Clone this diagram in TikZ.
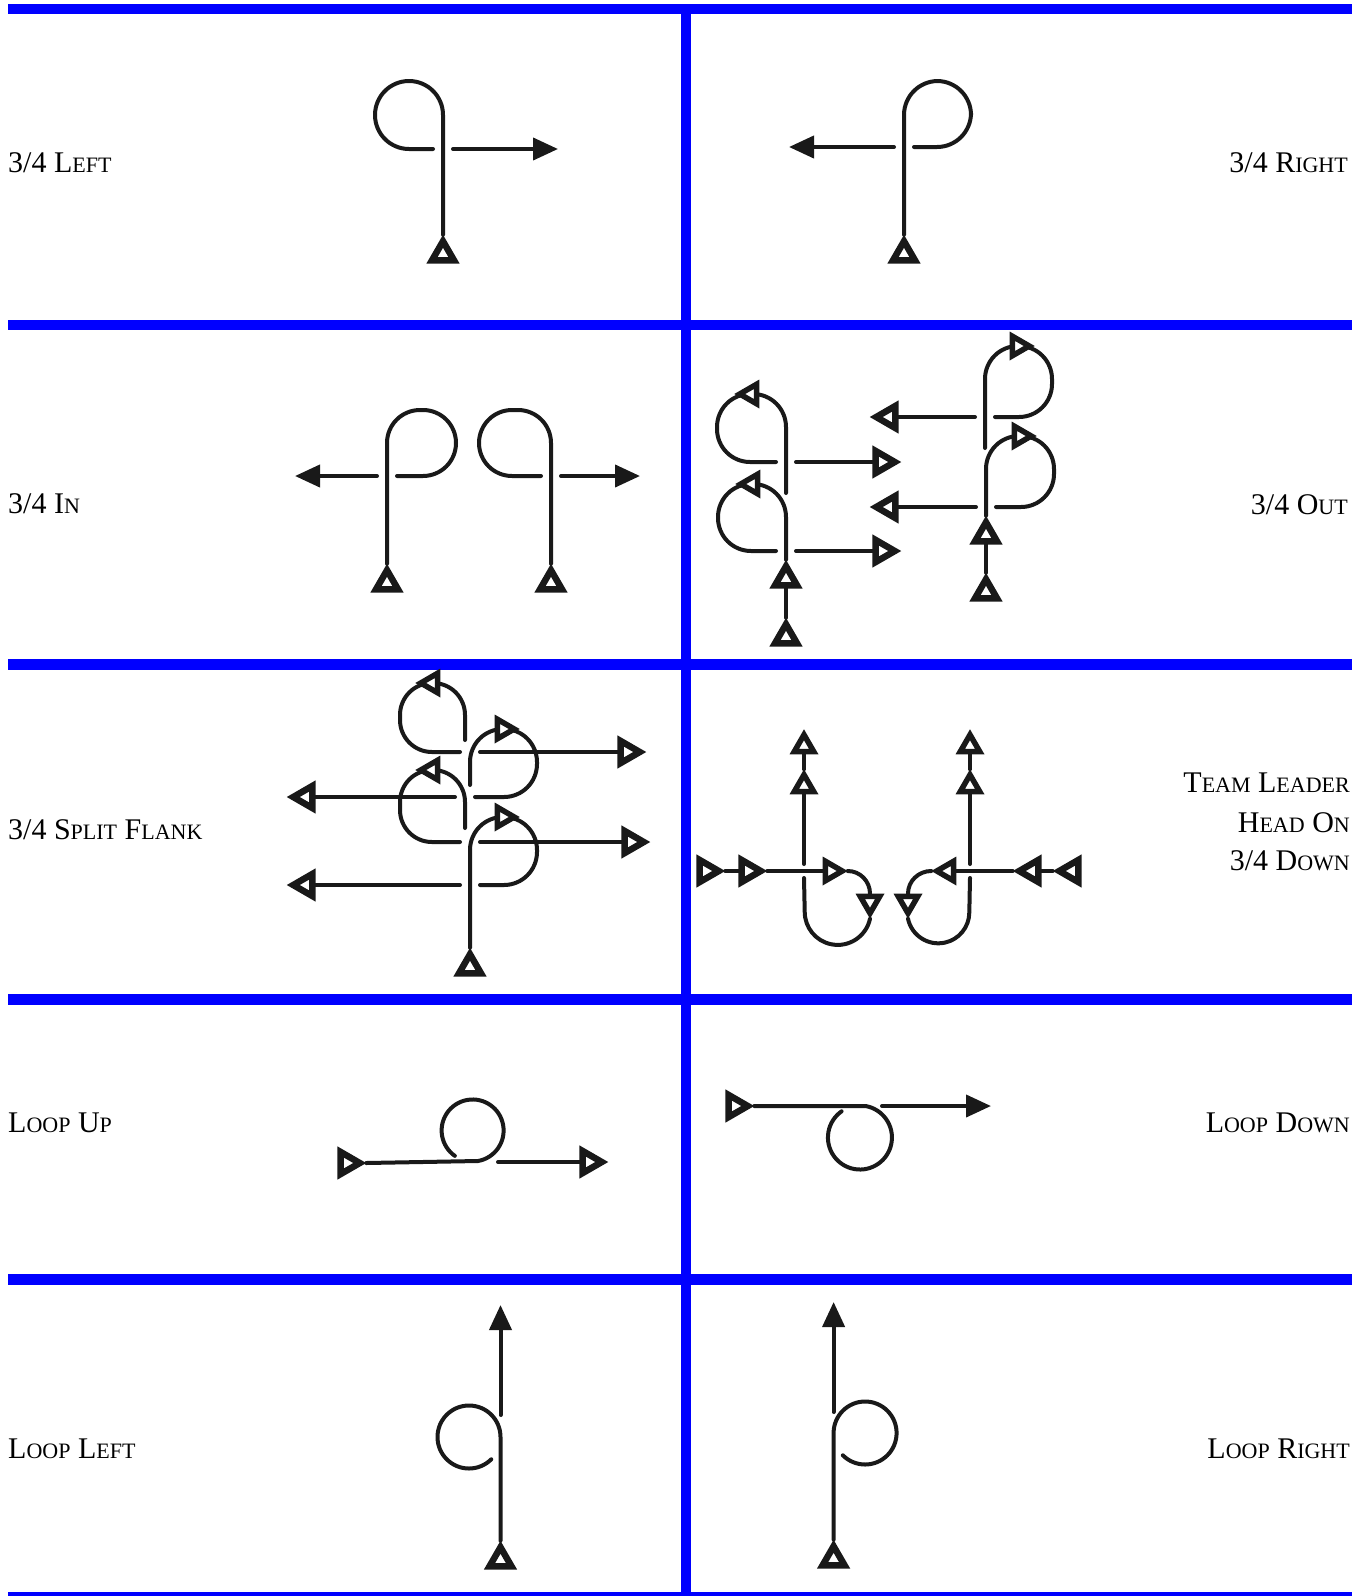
\documentclass[tikz,border=0pt]{standalone}
\usepackage{fontspec}
\setmainfont{Liberation Serif}
\usepackage{tikz}
\usetikzlibrary{arrows.meta,shapes.geometric}
\definecolor{ink}{gray}{0.1}
\newcommand\tsc[1]{{\fontsize{22}{26}\selectfont #1}}
\tikzset{
  rule/.style    ={draw=blue,line width=10.5pt},
  lbl/.style     ={font=\fontsize{30}{36}\selectfont,inner sep=0pt},
  track/.style   ={draw=ink,line width=4pt,line cap=round},
  dog/.style     ={regular polygon,regular polygon sides=3,draw=ink,fill=white,
                   line width=6.5pt,minimum size=25.5pt,inner sep=0pt},
  dogmark/.style ={dog,line width=5.5pt,minimum size=22.5pt},
  go/.style      ={-{Triangle[length=25pt,width=22pt]}},
}

\begin{document}
\begin{tikzpicture}[x=1pt,y=1pt]
  \useasboundingbox (0,0) rectangle (1364,-1596);
  % blue grid
  \foreach \yy in {9,325,664.5,999.5,1279.5,1597.5}
    \draw[rule] (8,-\yy) -- (1352,-\yy);
  \draw[rule] (686,-9) -- (686,-1597.5);

  % labels
  \node[lbl,anchor=base west] (lab1) at (8,-172) {3/4 L\tsc{EFT}};
  \node[lbl,anchor=base east] (lab2) at (1348,-172) {3/4 R\tsc{IGHT}};
  \node[lbl,anchor=base west] (lab3) at (8,-513) {3/4 I\tsc{N}};
  \node[lbl,anchor=base east] (lab4) at (1348,-514) {3/4 O\tsc{UT}};
  \node[lbl,anchor=base west] (lab5) at (8,-839) {3/4 S\tsc{PLIT} F\tsc{LANK}};
  \node[lbl,anchor=base east] (lab6a) at (1350,-792) {T\tsc{EAM} L\tsc{EADER}};
  \node[lbl,anchor=base east] (lab6b) at (1350,-832) {H\tsc{EAD} O\tsc{N}};
  \node[lbl,anchor=base east] (lab6c) at (1350,-870) {3/4 D\tsc{OWN}};
  \node[lbl,anchor=base west] (lab7) at (8,-1132) {L\tsc{OOP} U\tsc{P}};
  \node[lbl,anchor=base east] (lab8) at (1350,-1132) {L\tsc{OOP} D\tsc{OWN}};
  \node[lbl,anchor=base west] (lab9) at (8,-1458) {L\tsc{OOP} L\tsc{EFT}};
  \node[lbl,anchor=base east] (lab10) at (1350,-1458) {L\tsc{OOP} R\tsc{IGHT}};

  % 3/4 left
  \node[dog] (a1) at (443,-254) {};
  \draw[track,rounded corners=34pt] (a1.corner 1) -- (443,-81) -- (375,-81) -- (375,-149) -- (433,-149);
  \draw[track,go] (453,-149) -- (558,-149);
  % 3/4 right
  \node[dog] (a2) at (904,-254) {};
  \draw[track,rounded corners=34pt] (a2.corner 1) -- (904,-81) -- (971,-81) -- (971,-147) -- (914,-147);
  \draw[track,go] (894,-147) -- (789,-147);

  % 3/4 in
  \node[dog] (b1) at (387,-583) {};
  \draw[track,rounded corners=33pt] (b1.corner 1) -- (387,-410) -- (456,-410) -- (456,-476) -- (397,-476);
  \draw[track,go] (377,-476) -- (295,-476);
  \node[dog] (b2) at (551,-583) {};
  \draw[track,rounded corners=33pt] (b2.corner 1) -- (551,-410) -- (479,-410) -- (479,-476) -- (541,-476);
  \draw[track,go] (561,-476) -- (640,-476);

  % 3/4 out, left pair
  \node[dog] (c1) at (786,-637) {};
  \node[dog] (c2) at (786,-579) {};
  \node[dog,rotate=-90] (c9) at (882,-551) {};
  \node[dog,rotate=-90] (c10) at (882,-462) {};
  \draw[track] (c1.corner 1) -- (c2.side 2);
  \draw[track,rounded corners=33pt] (c2.corner 1) -- (786,-484) -- (718,-484) -- (718,-551) -- (776,-551);
  \draw[track] (796,-551) -- (c9.side 2);
  \draw[track,rounded corners=33pt] (786,-493) -- (786,-394) -- (717,-394) -- (717,-462) -- (776,-462);
  \draw[track] (796,-462) -- (c10.side 2);
  \node[dogmark,rotate=90] (c3) at (752,-484) {};
  \node[dogmark,rotate=90] (c4) at (751,-394) {};
  % 3/4 out, right pair
  \node[dog] (c5) at (986,-592) {};
  \node[dog] (c6) at (986,-535) {};
  \node[dog,rotate=90] (c11) at (889,-507) {};
  \node[dog,rotate=90] (c12) at (889,-417) {};
  \draw[track] (c5.corner 1) -- (c6.side 2);
  \draw[track,rounded corners=33pt] (c6.corner 1) -- (986,-436) -- (1054,-436) -- (1054,-507) -- (996,-507);
  \draw[track] (976,-507) -- (c11.side 2);
  \draw[track,rounded corners=33pt] (985,-448) -- (985,-346) -- (1052,-346) -- (1052,-417) -- (995,-417);
  \draw[track] (975,-417) -- (c12.side 2);
  \node[dogmark,rotate=-90] (c7) at (1020,-436) {};
  \node[dogmark,rotate=-90] (c8) at (1018,-346) {};

  % 3/4 split flank
  \node[dog] (d0) at (470,-967) {};
  \node[dog,rotate=90] (d5) at (306,-885) {};
  \node[dog,rotate=-90] (d6) at (631,-842) {};
  \node[dog,rotate=90] (d7) at (306,-797) {};
  \node[dog,rotate=-90] (d8) at (627,-752) {};
  \draw[track,rounded corners=33pt] (d0.corner 1) -- (470,-817) -- (537,-817) -- (537,-885) -- (480,-885);
  \draw[track] (460,-885) -- (d5.side 2);
  \draw[track,rounded corners=32pt] (465,-828) -- (465,-770) -- (400,-770) -- (400,-842) -- (460,-842);
  \draw[track] (480,-842) -- (d6.side 2);
  \draw[track,rounded corners=33pt] (470,-785) -- (470,-729) -- (537,-729) -- (537,-797) -- (475,-797);
  \draw[track] (455,-797) -- (d7.side 2);
  \draw[track,rounded corners=32pt] (465,-740) -- (465,-683) -- (400,-683) -- (400,-752) -- (460,-752);
  \draw[track] (480,-752) -- (d8.side 2);
  \node[dogmark,rotate=-90] (d1) at (503,-817) {};
  \node[dogmark,rotate=90] (d2) at (432,-770) {};
  \node[dogmark,rotate=-90] (d3) at (503,-729) {};
  \node[dogmark,rotate=90] (d4) at (432,-683) {};

  % team leader head on, left file
  \node[dog,rotate=-90] (e1) at (706,-871) {};
  \node[dog,rotate=-90] (e2) at (748,-871) {};
  \node[dogmark,rotate=-90] (e3) at (831,-871) {};
  \node[dogmark,rotate=180] (e4) at (870,-902) {};
  \node[dogmark] (e5) at (804,-786) {};
  \node[dogmark] (e6) at (804,-746) {};
  \draw[track] (e1.corner 1) -- (e2.side 2);
  \draw[track] (e2.corner 1) -- (e3.side 2);
  \draw[track] (e3.corner 1) to[out=0,in=90] (e4.side 2);
  \draw[track] (e4.corner 1) arc[start angle=-12,end angle=-180,radius=33pt] -- (804,-878);
  \draw[track] (804,-864) -- (e5.side 2);
  \draw[track] (e5.corner 1) -- (e6.side 2);
  % right file
  \node[dog,rotate=90] (f1) at (1072,-871) {};
  \node[dog,rotate=90] (f2) at (1032,-871) {};
  \node[dogmark,rotate=90] (f3) at (948,-871) {};
  \node[dogmark,rotate=180] (f4) at (908,-902) {};
  \node[dogmark] (f5) at (970,-786) {};
  \node[dogmark] (f6) at (970,-746) {};
  \draw[track] (f1.corner 1) -- (f2.side 2);
  \draw[track] (f2.corner 1) -- (f3.side 2);
  \draw[track] (f3.corner 1) to[out=180,in=90] (f4.side 2);
  \draw[track] (f4.corner 1) arc[start angle=192,end angle=360,radius=31pt] -- (970,-878);
  \draw[track] (970,-864) -- (f5.side 2);
  \draw[track] (f5.corner 1) -- (f6.side 2);

  % loop up
  \node[dog,rotate=-90] (g1) at (347,-1163) {};
  \node[dog,rotate=-90] (g2) at (589,-1162) {};
  \draw[track] (g1.corner 1) -- (478,-1161) arc[start angle=-80,end angle=235,radius=31pt];
  \draw[track] (498,-1162) -- (g2.side 2);
  % loop down
  \node[dog,rotate=-90] (h1) at (735,-1106) {};
  \draw[track] (h1.corner 1) -- (865.5,-1106) arc[start angle=80,end angle=-235,radius=32pt];
  \draw[track,go] (882,-1106) -- (991,-1106);

  % loop left
  \node[dog] (k1) at (500.5,-1560) {};
  \draw[track] (k1.corner 1) -- (500.5,-1437) arc[start angle=0,end angle=315,radius=31.5pt];
  \draw[track,go] (500.5,-1415) -- (500.5,-1305);
  % loop right
  \node[dog] (m1) at (833.6,-1559) {};
  \draw[track] (m1.corner 1) -- (833.6,-1433) arc[start angle=180,end angle=-135,radius=31.5pt];
  \draw[track,go] (833.6,-1412) -- (833.6,-1302);
\end{tikzpicture}
\end{document}
